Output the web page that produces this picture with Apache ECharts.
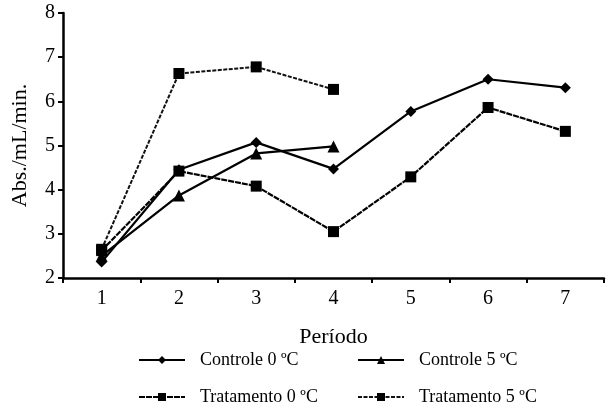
<!DOCTYPE html>
<html>
<head>
<meta charset="utf-8">
<script src="https://cdn.jsdelivr.net/npm/echarts@6/dist/echarts.min.js"></script>
<style>html,body{margin:0;padding:0;background:#fff;}#c{width:608px;height:411px;}</style>
</head>
<body>
<div id="c"></div>
<script>
var categories = ['1', '2', '3', '4', '5', '6', '7'];
var controle0 = [2.36, 4.45, 5.07, 4.47, 5.77, 6.50, 6.31];
var controle5 = [2.50, 3.87, 4.82, 4.98, null, null, null];
var tratamento0 = [2.62, 4.42, 4.08, 3.05, 4.29, 5.86, 5.32];
var tratamento5 = [2.65, 6.63, 6.78, 6.27, null, null, null];
var yTicks = [2, 3, 4, 5, 6, 7, 8];

var font = '"Liberation Serif", "Times New Roman", serif';
var chart = echarts.init(document.getElementById('c'));
var legendText = { fontFamily: font, fontSize: 18, lineHeight: 18, color: '#000', padding: [0, 0, 0, 10] };
chart.setOption({
  animation: false,
  grid: { left: 63, right: 4, top: 13, bottom: 133 },
  legend: [
    { orient: 'vertical', left: 138, top: 351, padding: 0, itemWidth: 46, itemHeight: 10, itemGap: 19,
      textStyle: legendText, data: ['Controle 0 ºC', 'Tratamento 0 ºC'] },
    { orient: 'vertical', left: 357, top: 351, padding: 0, itemWidth: 46, itemHeight: 10, itemGap: 19,
      textStyle: legendText, data: ['Controle 5 ºC', 'Tratamento 5 ºC'] }
  ],
  xAxis: {
    type: 'category', data: categories, boundaryGap: true,
    name: 'Período', nameLocation: 'middle', nameGap: 48,
    nameTextStyle: { fontFamily: font, fontSize: 22, color: '#000' },
    axisLine: { lineStyle: { color: '#000', width: 2.5 } },
    axisTick: { show: true, length: 5, lineStyle: { color: '#000', width: 2 } },
    axisLabel: { fontFamily: font, fontSize: 20, color: '#000', margin: 11 },
    splitLine: { show: false }
  },
  yAxis: {
    type: 'value', min: yTicks[0], max: yTicks[yTicks.length - 1], interval: 1,
    name: 'Abs./mL/min.', nameLocation: 'middle', nameGap: 32, nameRotate: 90,
    nameTextStyle: { fontFamily: font, fontSize: 22, color: '#000' },
    axisLine: { show: true, lineStyle: { color: '#000', width: 2.5 } },
    axisTick: { show: true, length: 5, lineStyle: { color: '#000', width: 2 } },
    axisLabel: { fontFamily: font, fontSize: 20, color: '#000', margin: 8 },
    splitLine: { show: false }
  },
  series: [
    { name: 'Controle 0 ºC', type: 'line', data: controle0, symbol: 'diamond', symbolSize: 11,
      lineStyle: { color: '#000', width: 2.2 }, itemStyle: { color: '#000' } },
    { name: 'Controle 5 ºC', type: 'line', data: controle5, symbol: 'triangle', symbolSize: 12,
      lineStyle: { color: '#000', width: 2.2 }, itemStyle: { color: '#000' } },
    { name: 'Tratamento 0 ºC', type: 'line', data: tratamento0, symbol: 'rect', symbolSize: 11,
      lineStyle: { color: '#000', width: 2.2, type: [6, 1] }, itemStyle: { color: '#000' } },
    { name: 'Tratamento 5 ºC', type: 'line', data: tratamento5, symbol: 'rect', symbolSize: 11,
      lineStyle: { color: '#111', width: 2, type: [4, 1.5] }, itemStyle: { color: '#000' } }
  ]
});
</script>
</body>
</html>
